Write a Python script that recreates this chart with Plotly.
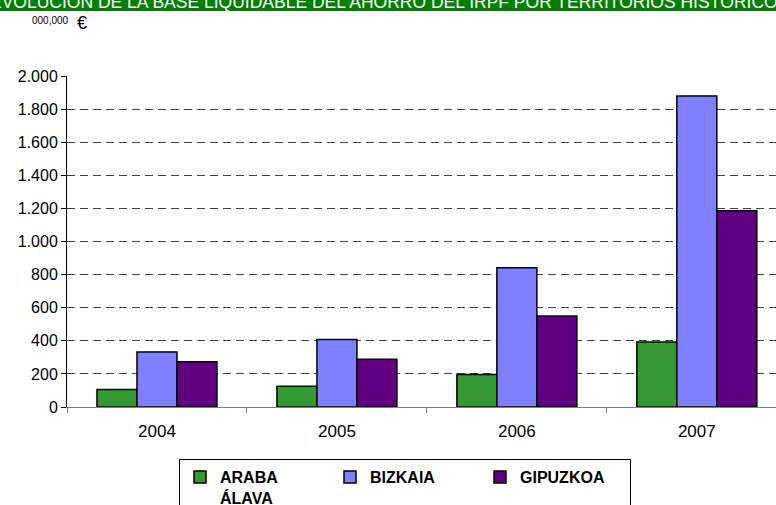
import plotly.graph_objects as go

years = ["2004", "2005", "2006", "2007"]
araba = [105, 125, 196, 392]
bizkaia = [333, 408, 842, 1879]
gipuzkoa = [273, 289, 550, 1186]
series_names = ["ARABA<br>ÁLAVA", "BIZKAIA", "GIPUZKOA"]
series_colors = ["#339933", "#8080FF", "#600080"]
y_ticks = [0, 200, 400, 600, 800, 1000, 1200, 1400, 1600, 1800, 2000]
title_text = "EVOLUCIÓN DE LA BASE LIQUIDABLE DEL AHORRO DEL IRPF POR TERRITORIOS HISTÓRICOS"

W, H = 776, 505
ML, MR, MT, MB = 67, 0, 76, 98
PW, PH = W - ML - MR, H - MT - MB

def px_x(x):
    return (x - ML) / PW

def px_y(y):
    return (H - MB - y) / PH

fig = go.Figure()
for name, vals, col in zip(series_names, [araba, bizkaia, gipuzkoa], series_colors):
    fig.add_trace(go.Bar(
        x=years, y=vals, name=name,
        marker=dict(color=col, line=dict(color="black", width=1.5)),
    ))

# invisible trace to create the grid axis
fig.add_trace(go.Scatter(x=years, y=[None]*4, yaxis="y2", showlegend=False, hoverinfo="skip"))

fig.update_layout(
    width=W, height=H,
    margin=dict(l=ML, r=MR, t=MT, b=MB, autoexpand=False),
    paper_bgcolor="white", plot_bgcolor="white",
    separators=",.",
    barmode="group", bargap=1/3, bargroupgap=0,
    font=dict(family="Liberation Sans, Arial", size=16, color="black"),
    xaxis=dict(
        type="category", range=[-0.5, 3.44], automargin=False,
        showline=True, linecolor="#808080", linewidth=1,
        ticks="outside", tickson="boundaries", ticklen=5, tickcolor="#808080",
        showgrid=False, tickfont=dict(size=17), ticklabelstandoff=9,
    ),
    yaxis=dict(
        range=[0, 2000], tickvals=y_ticks, tickformat=",d", automargin=False,
        showline=True, linecolor="black", linewidth=1,
        ticks="outside", ticklen=5, tickcolor="black",
        showgrid=False, zeroline=False, tickfont=dict(size=16),
    ),
    yaxis2=dict(
        range=[0, 2000], tickvals=y_ticks[1:-1], overlaying="y", side="left",
        showticklabels=False, ticks="", showline=False, zeroline=False, automargin=False,
        showgrid=True, gridcolor="#404040", gridwidth=1, griddash="8px,5px",
    ),
    legend=dict(
        orientation="h", x=px_x(179), y=px_y(459), xanchor="left", yanchor="top",
        bordercolor="black", borderwidth=1, bgcolor="white",
        font=dict(family="Liberation Sans, Arial", size=16, color="black", weight="bold"),
        valign="top", entrywidthmode="pixels", entrywidth=105, traceorder="normal",
    ),
    shapes=[dict(
        type="rect", xref="paper", yref="paper",
        x0=px_x(0), x1=px_x(W), y0=px_y(11), y1=px_y(-5),
        fillcolor="#008000", line=dict(width=0), layer="above",
    )],
    annotations=[
        dict(text=title_text, xref="paper", yref="paper", x=px_x(389), y=px_y(14),
             xanchor="center", yanchor="bottom", showarrow=False,
             font=dict(family="Liberation Sans, Arial", size=17.5, color="white")),
        dict(text="000,000", xref="paper", yref="paper", x=px_x(30), y=px_y(28),
             xanchor="left", yanchor="bottom", showarrow=False,
             font=dict(family="Liberation Sans, Arial", size=10, color="black")),
        dict(text="€", xref="paper", yref="paper", x=px_x(75), y=px_y(35),
             xanchor="left", yanchor="bottom", showarrow=False,
             font=dict(family="Liberation Sans, Arial", size=18, color="black")),
    ],
)

fig.write_html("out.html", config={"displayModeBar": False},
               post_script="document.body.style.margin='0';document.body.style.overflow='hidden';")
